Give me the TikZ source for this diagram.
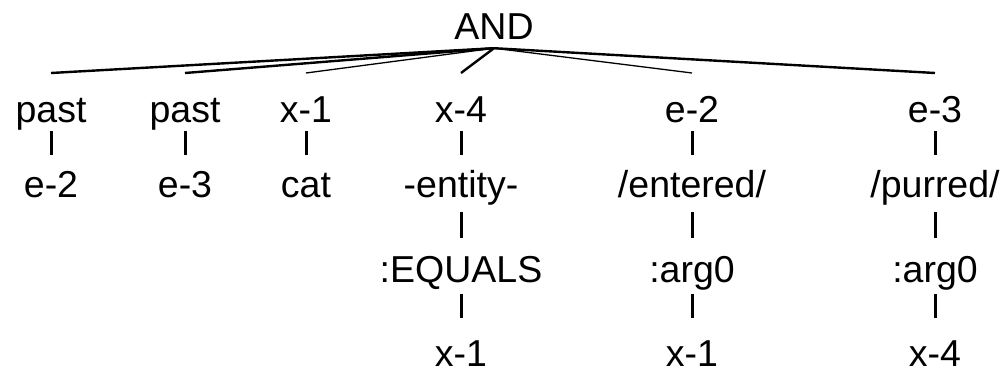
\documentclass[tikz,border=0pt]{standalone}
\usepackage{fontspec}
\setmainfont{Liberation Sans}
\begin{document}
\begin{tikzpicture}[x=1pt,y=-1pt,
  lbl/.style={anchor=base, inner sep=0pt, text height=26pt, text depth=8pt,
    font=\fontsize{37.5}{40}\selectfont},
  tick/.style={line width=3pt},
  thickedge/.style={line width=2.4pt},
  thinedge/.style={line width=1.3pt}]
\useasboundingbox (0,0) rectangle (1005,372);
% root
\node[lbl] (and) at (494,39) {AND};
% row 1
\node[lbl] (p1) at (51,122) {past};
\node[lbl] (p2) at (185,122) {past};
\node[lbl] (x1) at (306,122) {x-1};
\node[lbl] (x4) at (461,122) {x-4};
\node[lbl] (e2) at (692,122) {e-2};
\node[lbl] (e3) at (935,122) {e-3};
% row 2
\node[lbl] (p1c) at (51,197) {e-2};
\node[lbl] (p2c) at (185,197) {e-3};
\node[lbl] (x1c) at (306,197) {cat};
\node[lbl] (x4c) at (461,197) {-entity-};
\node[lbl] (e2c) at (692,197) {/entered/};
\node[lbl] (e3c) at (935,197) {/purred/};
% row 3
\node[lbl] (x4d) at (461,282) {:EQUALS};
\node[lbl] (e2d) at (692,282) {:arg0};
\node[lbl] (e3d) at (935,282) {:arg0};
% row 4
\node[lbl, text depth=1pt] (x4e) at (461,366) {x-1};
\node[lbl, text depth=1pt] (e2e) at (692,366) {x-1};
\node[lbl, text depth=1pt] (e3e) at (935,366) {x-4};
% edge end points above children
\foreach \n in {p1,p2,x1,x4,e2,e3} {
  \path (\n.base) ++(0,-49) coordinate (\n top);
}
\coordinate (andb) at ([yshift=-1pt]and.south);
\draw[thickedge] (andb) -- (p1top);
\draw[thickedge] (andb) -- (p2top);
\draw[thinedge] (andb) -- (x1top);
\draw[thickedge] (andb) -- (x4top);
\draw[thinedge] (andb) -- (e2top);
\draw[thickedge] (andb) -- (e3top);
% ticks
\foreach \a/\b in {p1/p1c,p2/p2c,x1/x1c,x4/x4c,e2/e2c,e3/e3c}
  \draw[tick, shorten <=1pt, shorten >=16pt] (\a) -- (\b);
\foreach \a/\b in {x4c/x4d,e2c/e2d,e3c/e3d}
  \draw[tick, shorten <=7pt, shorten >=18pt] (\a) -- (\b);
\foreach \a/\b in {x4d/x4e,e2d/e2e,e3d/e3e}
  \draw[tick, shorten <=4pt, shorten >=22pt] (\a) -- (\b);
\end{tikzpicture}
\end{document}
